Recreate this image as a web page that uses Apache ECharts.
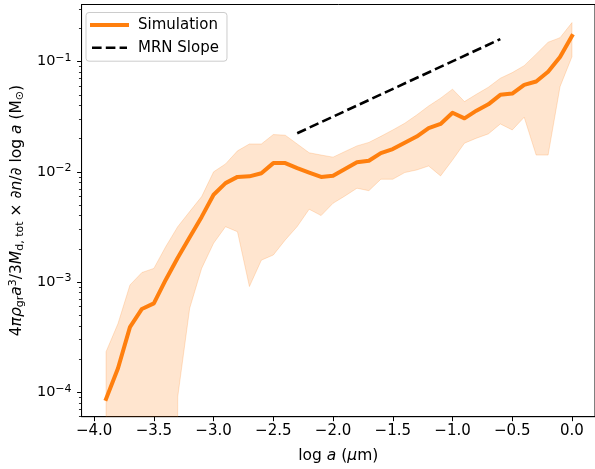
<!DOCTYPE html>
<html>
<head>
<meta charset="utf-8">
<script src="https://cdn.jsdelivr.net/npm/echarts/dist/echarts.min.js"></script>
<style>
html,body{margin:0;padding:0;background:#fff;}
#chart{width:595px;height:469px;}
</style>
</head>
<body>
<div id="chart"></div>
<script>
// ---- data ----
const logA = [-3.9,-3.8,-3.7,-3.6,-3.5,-3.4,-3.3,-3.2,-3.1,-3.0,
              -2.9,-2.8,-2.7,-2.6,-2.5,-2.4,-2.3,-2.2,-2.1,-2.0,
              -1.9,-1.8,-1.7,-1.6,-1.5,-1.4,-1.3,-1.2,-1.1,-1.0,
              -0.9,-0.8,-0.7,-0.6,-0.5,-0.4,-0.3,-0.2,-0.1,0.0];
const simMedian = [8.7e-5,1.65e-4,3.9e-4,5.7e-4,6.4e-4,1.05e-3,1.66e-3,2.55e-3,3.9e-3,6.2e-3,
                   7.9e-3,9.0e-3,9.1e-3,9.7e-3,1.2e-2,1.2e-2,1.08e-2,9.85e-3,9.0e-3,9.2e-3,
                   1.06e-2,1.22e-2,1.26e-2,1.48e-2,1.61e-2,1.84e-2,2.09e-2,2.49e-2,2.72e-2,3.44e-2,
                   3.06e-2,3.59e-2,4.1e-2,5.0e-2,5.13e-2,6.15e-2,6.6e-2,8.1e-2,0.110,0.171];
const simUpper = [2.33e-4,4.2e-4,9.4e-4,1.22e-3,1.33e-3,2.1e-3,3.18e-3,4.36e-3,5.96e-3,1.0e-2,
                  1.18e-2,1.55e-2,1.79e-2,1.79e-2,2.18e-2,2.15e-2,1.79e-2,1.49e-2,1.42e-2,1.36e-2,
                  1.53e-2,1.72e-2,1.85e-2,2.1e-2,2.4e-2,2.76e-2,3.28e-2,3.96e-2,4.66e-2,5.63e-2,
                  4.34e-2,5.06e-2,5.86e-2,7.07e-2,7.95e-2,9.2e-2,0.117,0.150,0.165,0.226];
const simLower = [0,0,0,0,0,0,9.1e-5,5.78e-4,1.33e-3,2.25e-3,
                  3.18e-3,2.86e-3,9.1e-4,1.58e-3,1.76e-3,2.41e-3,3.19e-3,4.58e-3,4.01e-3,5.19e-3,
                  6.04e-3,7.1e-3,6.75e-3,8.57e-3,8.57e-3,9.85e-3,1.04e-2,1.13e-2,9.19e-3,1.28e-2,
                  1.82e-2,2.02e-2,2.21e-2,2.72e-2,2.4e-2,3.13e-2,1.42e-2,1.42e-2,5.93e-2,0.111];
const mrnX = [-2.3, -0.6];
const mrnY = [0.0224, 0.16];

// ---- axes ticks ----
const xTickValues = [-4.0,-3.5,-3.0,-2.5,-2.0,-1.5,-1.0,-0.5,0.0];
const yTickValues = [1e-4,1e-3,1e-2,1e-1];
const yMinorTickValues = [];
[-5,-4,-3,-2,-1].forEach(function(e){
  for (let m = 2; m <= 9; m++) {
    const v = m * Math.pow(10, e);
    if (v > 6.0e-5 && v < 0.33) yMinorTickValues.push(v);
  }
});

const X_MIN = -4.105, X_MAX = 0.1926;
const Y_MIN = 6.0e-5, Y_MAX = 0.33;
const FONT = 'DejaVu Sans';
const FS = 15;

const chart = echarts.init(document.getElementById('chart'), null, {renderer: 'canvas'});

const nameRich = {
  n: {fontFamily: FONT, fontSize: 15.5, color: '#000', lineHeight: 18},
  i: {fontFamily: FONT, fontSize: 15.5, color: '#000', lineHeight: 18, fontStyle: 'italic'},
  sp: {fontFamily: FONT, fontSize: 11, color: '#000', lineHeight: 8, verticalAlign: 'top'},
  sb: {fontFamily: FONT, fontSize: 11, color: '#000', lineHeight: 8, verticalAlign: 'bottom'}
};

const option = {
  animation: false,
  backgroundColor: '#fff',
  grid: {left: 77.3, top: 4.5, width: 520, height: 412.2, show: true, borderColor: '#000', borderWidth: 1, backgroundColor: 'transparent', containLabel: false},
  legend: {
    left: 86, top: 12.5, orient: 'vertical',
    padding: [4, 8, 5, 4],
    itemWidth: 35, itemHeight: 14, itemGap: 5.7,
    backgroundColor: 'rgba(255,255,255,0.8)', borderColor: '#cccccc', borderWidth: 1, borderRadius: 3,
    textStyle: {fontFamily: FONT, fontSize: FS, color: '#000', lineHeight: 17, padding: [0, 0, 0, 6]},
    itemStyle: {opacity: 0},
    lineStyle: {width: 'inherit'},
    data: ['Simulation', 'MRN Slope']
  },
  xAxis: {
    type: 'value', min: X_MIN, max: X_MAX,
    name: '{n|log }{i|a}{n| (}{i|\u03bc}{n|m)}',
    nameLocation: 'middle', nameGap: 30,
    nameTextStyle: {rich: nameRich},
    axisLine: {show: true, onZero: false, lineStyle: {color: '#000', width: 1}},
    axisTick: {show: true, length: 4.5, lineStyle: {color: '#000', width: 1}, customValues: xTickValues},
    axisLabel: {
      customValues: xTickValues, margin: 7,
      fontFamily: FONT, fontSize: FS, color: '#000',
      formatter: function(v){ return (v < 0 ? '\u2212' : '') + Math.abs(v).toFixed(1); }
    },
    splitLine: {show: false}
  },
  yAxis: [{
    type: 'log', logBase: 10, min: Y_MIN, max: Y_MAX, position: 'left',
    name: '{n|4}{i|\u03c0\u03c1}{sb|gr}{i|a}{sp|3}{n|/3}{i|M}{sb|d, tot}{n| \u00d7 \u2202}{i|n}{n|/\u2202 log }{i|a}{n| (M}{sb|\u2299}{n|)}',
    nameLocation: 'middle', nameRotate: 90, nameGap: 53,
    nameTextStyle: {rich: nameRich},
    axisLine: {show: true, onZero: false, lineStyle: {color: '#000', width: 1}},
    axisTick: {show: true, length: 4.5, lineStyle: {color: '#000', width: 1}, customValues: yTickValues},
    axisLabel: {
      customValues: yTickValues, margin: 10,
      formatter: function(v){
        const e = Math.round(Math.log10(v));
        return '{b|10}{s|' + (e < 0 ? '\u2212' : '') + Math.abs(e) + '}';
      },
      rich: {
        b: {fontFamily: FONT, fontSize: 14.5, color: '#000', lineHeight: 18},
        s: {fontFamily: FONT, fontSize: 11, color: '#000', lineHeight: 9, verticalAlign: 'top'}
      }
    },
    splitLine: {show: false}
  }, {
    type: 'log', logBase: 10, min: Y_MIN, max: Y_MAX, position: 'left', offset: 0,
    axisLine: {show: false, onZero: false},
    axisTick: {show: true, length: 2.6, lineStyle: {color: '#000', width: 0.8}, customValues: yMinorTickValues},
    axisLabel: {show: false},
    splitLine: {show: false}
  }],
  series: [
    {
      type: 'custom', name: 'band', silent: true, z: 1,
      xAxisIndex: 0, yAxisIndex: 0,
      data: [[logA[0], simUpper[0]]],
      renderItem: function(params, api){
        const pts = [];
        for (let i = 0; i < logA.length; i++) pts.push(api.coord([logA[i], simUpper[i]]));
        for (let i = logA.length - 1; i >= 0; i--) {
          const v = simLower[i] > 0 ? simLower[i] : 1e-30;
          pts.push(api.coord([logA[i], v]));
        }
        const cs = params.coordSys;
        return {
          type: 'polygon',
          shape: {points: pts},
          style: {fill: 'rgba(255,127,14,0.2)', stroke: 'rgba(255,127,14,0.2)', lineWidth: 1},
          clipPath: {type: 'rect', shape: {x: cs.x, y: cs.y, width: cs.width, height: cs.height}}
        };
      }
    },
    {
      type: 'line', name: 'Simulation', z: 3,
      data: logA.map(function(x, i){ return [x, simMedian[i]]; }),
      symbol: 'none', showSymbol: false,
      lineStyle: {color: '#ff7f0e', width: 4, cap: 'square', join: 'round'},
      itemStyle: {color: '#ff7f0e'}
    },
    {
      type: 'line', name: 'MRN Slope', z: 4,
      data: mrnX.map(function(x, i){ return [x, mrnY[i]]; }),
      symbol: 'none', showSymbol: false,
      lineStyle: {color: '#000', width: 2.6, type: [9.6, 4.2], cap: 'butt'},
      itemStyle: {color: '#000'}
    }
  ]
};
chart.setOption(option);
</script>
</body>
</html>
